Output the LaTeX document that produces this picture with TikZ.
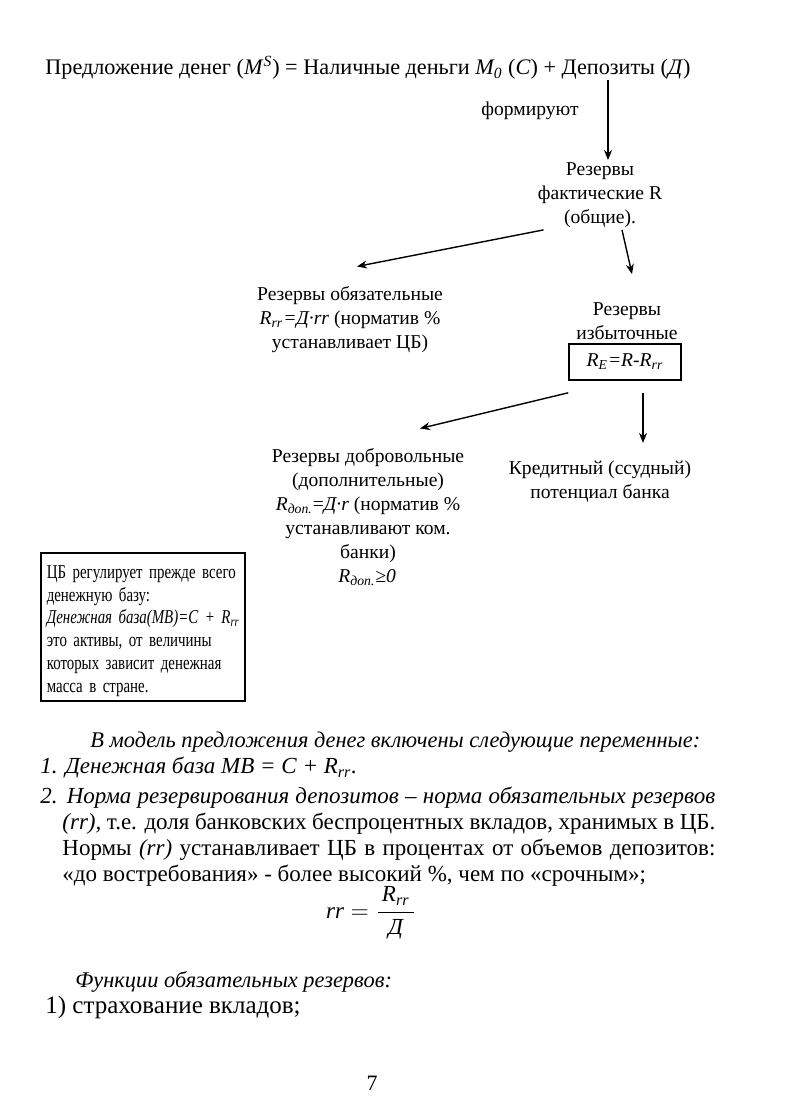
\documentclass[tikz,border=0pt]{standalone}
\usepackage{fontspec}
\usepackage{amsmath}
\setmainfont{Liberation Serif}
\newfontfamily\boxfont[FakeStretch=0.76]{Liberation Serif}
\usetikzlibrary{arrows.meta, positioning}
\newcommand{\rsub}[1]{\textsubscript{#1}}
\newcommand{\fullline}[2]{\makebox[#1][s]{#2}}

\begin{document}
\begin{tikzpicture}[
    x=0.5pt, y=-0.5pt,
    txt/.style={font=\fontsize{9.8}{12}\selectfont, align=center, inner sep=1pt},
    title/.style={font=\fontsize{11.1}{13}\selectfont, inner sep=0pt, anchor=west},
    body/.style={font=\fontsize{11.2}{13}\selectfont, inner sep=0pt, anchor=west},
    para/.style={font=\fontsize{11.5}{13}\selectfont, inner sep=0pt, align=left, anchor=north west},
    cbbox/.style={draw, line width=0.8pt, font=\boxfont\fontsize{9.8}{11.4}\selectfont, align=left, text width=96pt, inner xsep=3pt, inner ysep=2pt, minimum height=74pt},
    formbox/.style={draw, line width=0.8pt, minimum width=56pt, minimum height=18pt, font=\fontsize{9.8}{12}\selectfont},
    arrow/.style={-{Stealth[length=5pt, width=4pt]}, line width=0.7pt},
]
\fill[white] (0,0) rectangle (788,1106);
\useasboundingbox (0,0) rectangle (788,1106);

% Money supply
\node[title] (supply) at (45,68) {Предложение денег (\textit{M}\textsuperscript{\textit{S}}) = Наличные деньги \textit{M\rsub{0}} (\textit{C}) + Депозиты (\textit{Д})};
\coordinate (dep) at (608,80);
\node[txt] (forms) at (530,111) {формируют};

% Actual reserves
\node[txt] (fact) at (600,195) {Резервы\\фактические R\\(общие).};
\node[txt] (oblig) at (350,320) {Резервы обязательные\\\textit{R\rsub{rr}=Д·rr} (норматив \%\\устанавливает ЦБ)};
\node[txt] (excess) at (627,321) {Резервы\\избыточные};
\node[formbox] (re) at (625,362) {\textit{R\rsub{E}=R-R\rsub{rr}}};

% Voluntary reserves and credit
\node[txt] (vol) at (368,506) {Резервы добровольные\\(дополнительные)\\\textit{R\rsub{доп.}}=\textit{Д·r} (норматив \%\\устанавливают ком.\\банки)};
\node[txt, anchor=west, inner sep=0pt] (volcond) at (338,578) {\textit{R\rsub{доп.}≥0}};
\node[txt] (credit) at (600,482) {Кредитный (ссудный)\\потенциал банка};

% Central bank box
\node[cbbox, anchor=north west] (cb) at (40,552) {\rule{0pt}{10.5pt}\fullline{96pt}{ЦБ регулирует прежде всего}\\денежную базу:\\\fullline{96pt}{\textit{Денежная база(MB)=C + R\rsub{rr}}}\\\fullline{96pt}{это активы, от величины}\\\fullline{96pt}{которых зависит денежная}\\масса в стране.};

% Model variables
\node[body] (model) at (90,742) {\textit{В модель предложения денег включены следующие переменные:}};
\node[para, anchor=west] (item1) at (40,768) {\textit{1. Денежная база MB = C + R\rsub{rr}.}};
\node[para] (item2) at (40,787) {\fullline{337.5pt}{\textit{2. Норма резервирования депозитов -- норма обязательных резервов}}\\\hspace*{11pt}\fullline{326.5pt}{\textit{(rr),} т.е. доля банковских беспроцентных вкладов, хранимых в ЦБ.}\\\hspace*{11pt}\fullline{326.5pt}{Нормы \textit{(rr)} устанавливает ЦБ в процентах от объемов депозитов:}\\\hspace*{11pt}«до востребования» - более высокий \%, чем по «срочным»;};
\node[txt, font=\fontsize{11.5}{13}\selectfont] (ratio) at (371,913) {$\textit{rr} = \dfrac{\,\textit{R}_{\textit{rr}}\,}{\textit{Д}}$};

% Functions
\node[body] (func) at (75,982) {\textit{Функции обязательных резервов:}};
\node[body, font=\fontsize{12.5}{14}\selectfont] (func1) at (45,1007) {1) страхование вкладов;};
\node[txt, font=\fontsize{11}{13}\selectfont] (page) at (372,1083) {7};

% Arrows
\draw[arrow] (dep) -- (dep |- fact.north);
\draw[arrow] ([xshift=4pt]fact.south west) -- ([xshift=3.5pt, yshift=9pt]oblig.north);
\draw[arrow] ([xshift=11pt]fact.south) -- ([xshift=2.5pt, yshift=13pt]excess.north);
\draw[arrow] ([yshift=-6pt]re.south west) -- ([xshift=26pt, yshift=9pt]vol.north);
\draw[arrow] ([xshift=9pt, yshift=-6pt]re.south) -- ([xshift=21.5pt, yshift=8pt]credit.north);

\end{tikzpicture}
\end{document}
